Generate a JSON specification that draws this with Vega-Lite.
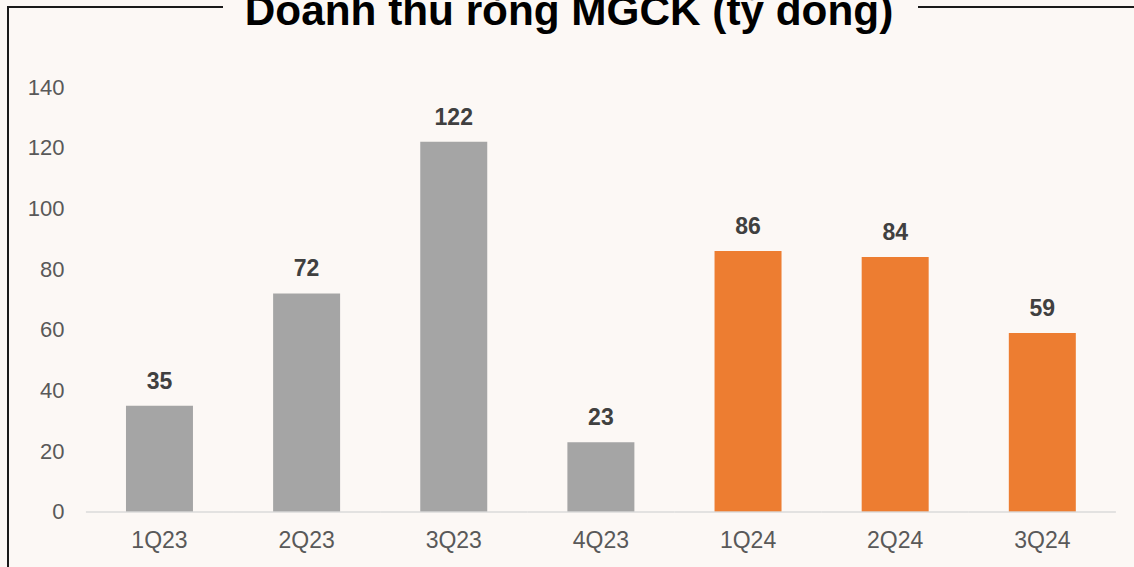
{
  "$schema": "https://vega.github.io/schema/vega-lite/v6.json",
  "width": 1126,
  "height": 560,
  "autosize": {"type": "none"},
  "padding": {"left": 8, "top": 7, "right": 0, "bottom": 0},
  "background": "#fcf8f5",
  "title": {
    "text": "Doanh thu ròng MGCK (tỷ đồng)",
    "font": "Liberation Sans",
    "fontSize": 42.3,
    "fontWeight": "bold",
    "color": "#000000",
    "anchor": "middle",
    "frame": "group",
    "baseline": "alphabetic",
    "offset": -60,
    "dx": -2
  },
  "config": {
    "font": "Liberation Sans",
    "view": {"stroke": "#1a1a1a", "strokeWidth": 2, "strokeDash": [215, 695, 216, 1686, 560, 100]}
  },
  "data": {
    "values": [
      {"q": "1Q23", "v": 35, "yr": "2023"},
      {"q": "2Q23", "v": 72, "yr": "2023"},
      {"q": "3Q23", "v": 122, "yr": "2023"},
      {"q": "4Q23", "v": 23, "yr": "2023"},
      {"q": "1Q24", "v": 86, "yr": "2024"},
      {"q": "2Q24", "v": 84, "yr": "2024"},
      {"q": "3Q24", "v": 59, "yr": "2024"}
    ]
  },
  "encoding": {
    "x": {
      "field": "q",
      "type": "nominal",
      "sort": null,
      "scale": {"paddingInner": 0.5447, "paddingOuter": 0.5986, "align": 0.6697},
      "axis": {
        "orient": "bottom",
        "offset": -55,
        "title": null,
        "labelAngle": 0,
        "labelFontSize": 23,
        "labelColor": "#595959",
        "ticks": false,
        "tickSize": 0,
        "domain": false,
        "labelPadding": 35,
        "labelBaseline": "alphabetic"
      }
    }
  },
  "layer": [
    {
      "mark": {"type": "bar"},
      "encoding": {
        "y": {
          "field": "v",
          "type": "quantitative",
          "scale": {"domain": [-18.118, 166.353], "nice": false, "zero": false},
          "axis": {
            "values": [0, 20, 40, 60, 80, 100, 120, 140],
            "offset": -56,
            "labelPadding": 0,
            "tickSize": 0,
            "ticks": false,
            "domain": false,
            "grid": false,
            "title": null,
            "labelFontSize": 22,
            "labelColor": "#595959"
          }
        },
        "y2": {"datum": 0},
        "color": {
          "field": "yr",
          "type": "nominal",
          "scale": {"domain": ["2023", "2024"], "range": ["#a5a5a5", "#ed7d31"]},
          "legend": null
        }
      }
    },
    {
      "mark": {"type": "tick", "size": 147.14, "thickness": 2, "color": "#d9d9d9", "orient": "horizontal"},
      "encoding": {
        "y": {"datum": 0, "type": "quantitative"}
      }
    },
    {
      "mark": {"type": "text", "dy": -17, "baseline": "alphabetic", "fontSize": 23, "fontWeight": "bold", "color": "#404040"},
      "encoding": {
        "y": {"field": "v", "type": "quantitative"},
        "text": {"field": "v", "type": "quantitative"}
      }
    }
  ]
}
